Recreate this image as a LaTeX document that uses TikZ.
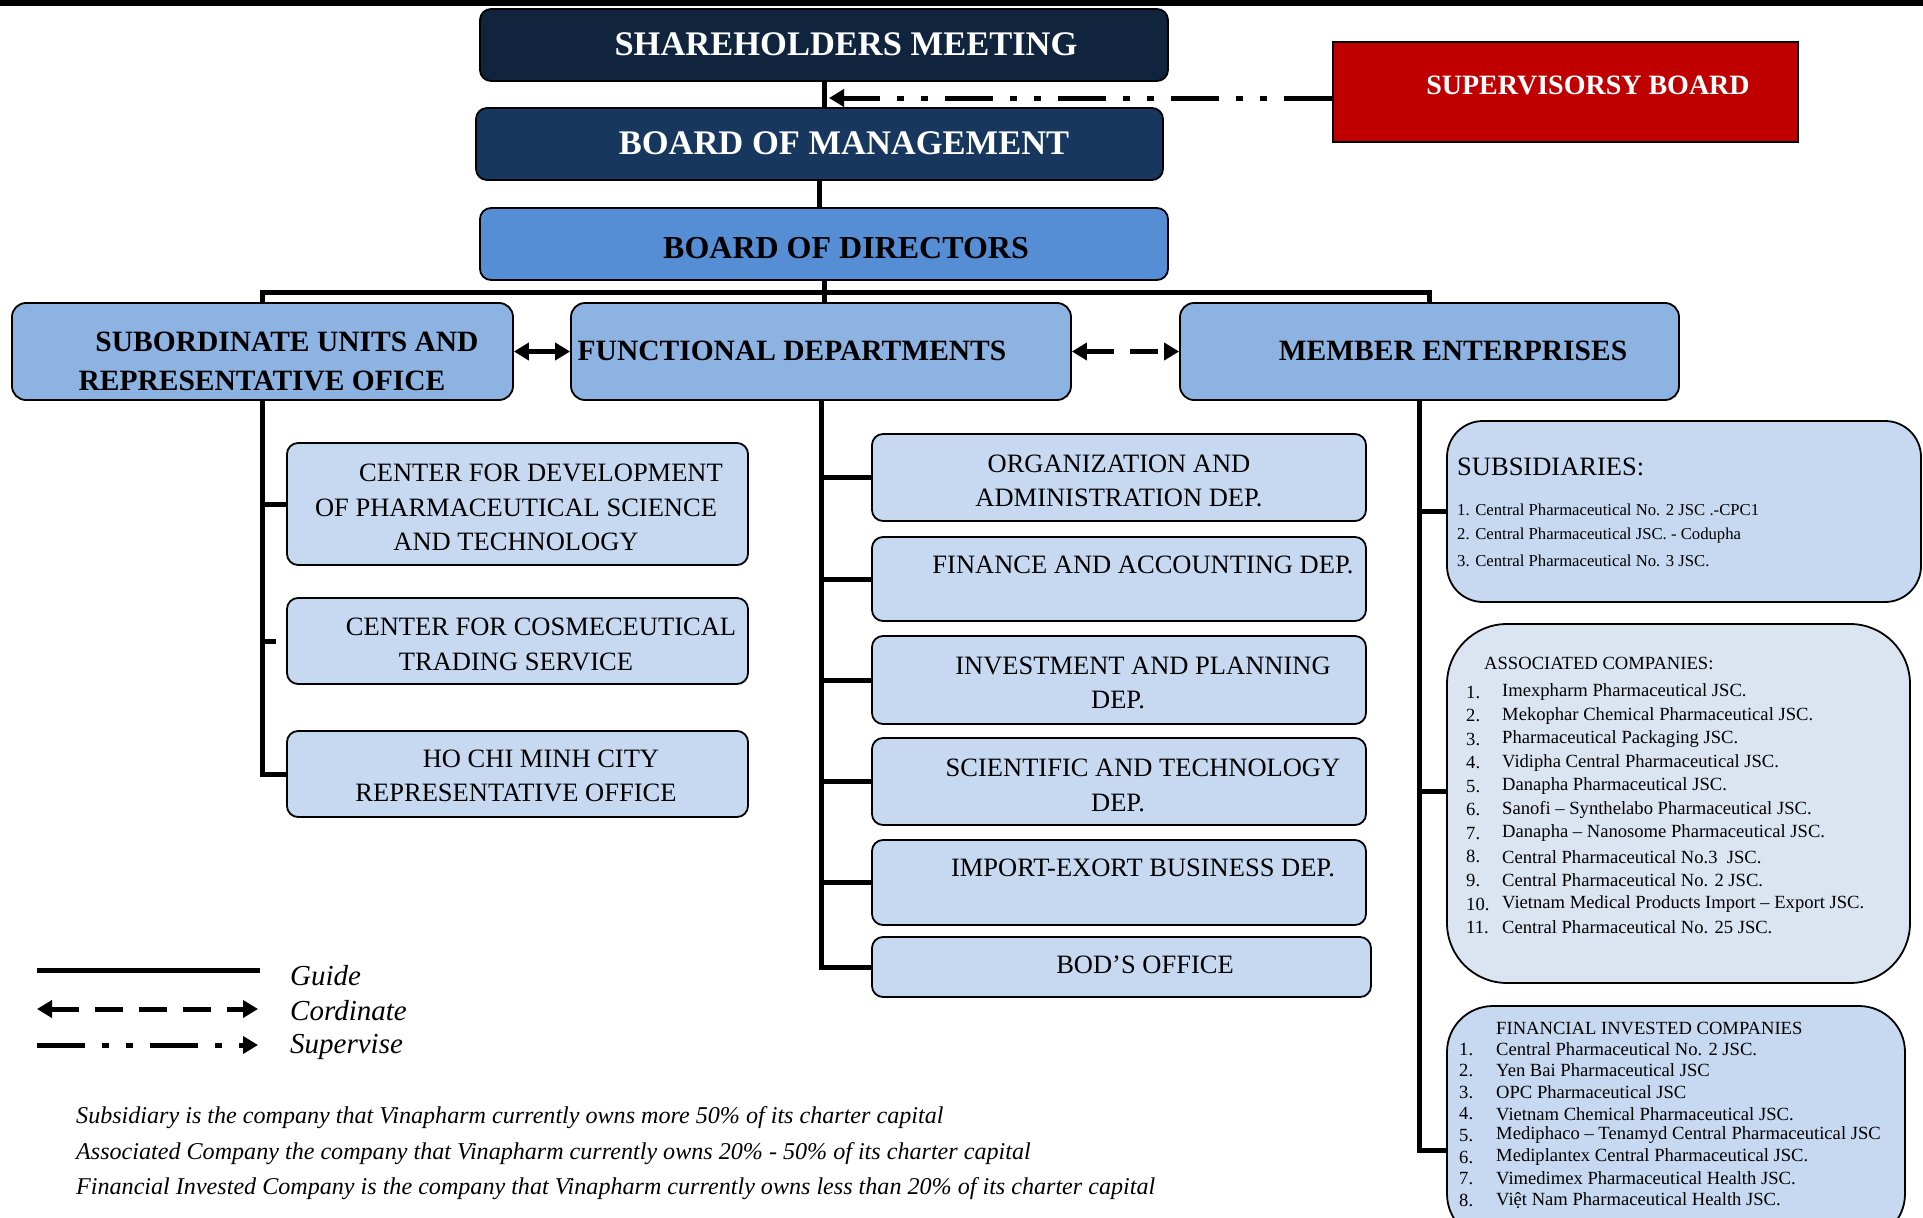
\documentclass[tikz,border=0pt]{standalone}
\usepackage{fontspec}
\setmainfont{Liberation Serif}
\usetikzlibrary{arrows.meta}

\definecolor{navyA}{HTML}{10243E}
\definecolor{navyB}{HTML}{17375E}
\definecolor{blueC}{HTML}{558ED5}
\definecolor{blueD}{HTML}{8DB3E2}
\definecolor{blueE}{HTML}{C6D9F1}
\definecolor{blueF}{HTML}{DBE5F1}
\definecolor{redS}{HTML}{C00000}

\tikzset{
  orgbox/.style={draw=black, line width=1.8pt, rounded corners=11pt, inner sep=0pt},
  guide/.style={line width=5pt, line join=miter},
  cordline/.style={line width=5pt, dash pattern=on 28pt off 16pt,
    {Triangle[length=15pt,width=17pt]}-{Triangle[length=15pt,width=17pt]}},
  supline/.style={line width=5pt,
    dash pattern=on 48pt off 17pt on 7pt off 17pt on 7pt off 17pt,
    -{Triangle[length=15pt,width=17pt]}},
  hdrtxt/.style={text=white, inner sep=0pt, font=\fontsize{34.5}{40}\selectfont\bfseries},
  bodtxt/.style={text=black, inner sep=0pt, font=\fontsize{32}{38}\selectfont\bfseries},
  suptxt/.style={text=white, inner sep=0pt, font=\fontsize{28}{34}\selectfont\bfseries},
  lvltxt/.style={text=black, inner sep=0pt, align=center, font=\fontsize{29.5}{39}\selectfont\bfseries},
  depttxt/.style={text=black, inner sep=0pt, align=center, font=\fontsize{26.5}{34.5}\selectfont},
  subhead/.style={text=black, inner sep=0pt, anchor=west, font=\fontsize{26.5}{30}\selectfont},
  smallitem/.style={text=black, inner sep=0pt, anchor=west, font=\fontsize{16.7}{20}\selectfont},
  listtxt/.style={text=black, inner sep=0pt, anchor=west, font=\fontsize{18.6}{22}\selectfont},
  legendtxt/.style={text=black, inner sep=0pt, anchor=west, font=\fontsize{29}{34}\selectfont\itshape},
  notetxt/.style={text=black, inner sep=0pt, anchor=west, font=\fontsize{24.1}{30}\selectfont\itshape}
}

\begin{document}
\begin{tikzpicture}[x=1pt,y=-1pt]
\useasboundingbox (0,0) rectangle (1923,1218);
\clip (0,0) rectangle (1923,1218);
\fill[black] (0,0) rectangle (1923,6);

% ---- top levels ----
\node[orgbox, fill=navyA, minimum width=688pt, minimum height=72pt] (shm) at (824,45) {};
\node[hdrtxt] (shmt) at (846,44) {SHAREHOLDERS MEETING};

\node[draw=black, line width=1.8pt, fill=redS, inner sep=0pt,
      minimum width=465pt, minimum height=100pt] (sup) at (1565.5,92) {};
\node[suptxt] (supt) at (1588,85) {SUPERVISORSY BOARD};

\node[orgbox, fill=navyB, minimum width=687pt, minimum height=72pt] (bom) at (819.5,144) {};
\node[hdrtxt] (bomt) at (844,143) {BOARD OF MANAGEMENT};

\node[orgbox, fill=blueC, minimum width=688pt, minimum height=72pt] (bod) at (824,244) {};
\node[bodtxt] (bodt) at (846,248) {BOARD OF DIRECTORS};

% ---- second level ----
\node[orgbox, rounded corners=14pt, fill=blueD, minimum width=501pt, minimum height=97pt] (sub) at (262.5,351.5) {};
\node[lvltxt] (subt) at (262,361.5) {\hspace*{50pt}SUBORDINATE UNITS AND\\REPRESENTATIVE OFICE};
\node[orgbox, rounded corners=14pt, fill=blueD, minimum width=500pt, minimum height=97pt] (fun) at (821,351.5) {};
\node[lvltxt] (funt) at (792,351) {FUNCTIONAL DEPARTMENTS};
\node[orgbox, rounded corners=14pt, fill=blueD, minimum width=499pt, minimum height=97pt] (mem) at (1429.5,351.5) {};
\node[lvltxt] (memt) at (1453,351) {MEMBER ENTERPRISES};

% ---- subordinate units ----
\node[orgbox, fill=blueE, minimum width=461pt, minimum height=122pt] (dev) at (517.5,504) {};
\node[depttxt] (devt) at (516,507.5) {\hspace*{50pt}CENTER FOR DEVELOPMENT\\OF PHARMACEUTICAL SCIENCE\\AND TECHNOLOGY};
\node[orgbox, fill=blueE, minimum width=461pt, minimum height=86pt] (cos) at (517.5,641) {};
\node[depttxt] (cost) at (516,644.5) {\hspace*{50pt}CENTER FOR COSMECEUTICAL\\TRADING SERVICE};
\node[orgbox, fill=blueE, minimum width=461pt, minimum height=86pt] (hcm) at (517.5,774) {};
\node[depttxt] (hcmt) at (516,776) {\hspace*{50pt}HO CHI MINH CITY\\REPRESENTATIVE OFFICE};

% ---- functional departments ----
\node[orgbox, fill=blueE, minimum width=494pt, minimum height=87pt] (org) at (1119,477.5) {};
\node[depttxt] (orgt) at (1119,481) {ORGANIZATION AND\\ADMINISTRATION DEP.};
\node[orgbox, fill=blueE, minimum width=494pt, minimum height=84pt] (fin) at (1119,579) {};
\node[depttxt] (fint) at (1143,565) {FINANCE AND ACCOUNTING DEP.};
\node[orgbox, fill=blueE, minimum width=494pt, minimum height=88pt] (inv) at (1119,680) {};
\node[depttxt] (invt) at (1118,683) {\hspace*{50pt}INVESTMENT AND PLANNING\\DEP.};
\node[orgbox, fill=blueE, minimum width=494pt, minimum height=87pt] (sci) at (1119,781.5) {};
\node[depttxt] (scit) at (1118,785.5) {\hspace*{50pt}SCIENTIFIC AND TECHNOLOGY\\DEP.};
\node[orgbox, fill=blueE, minimum width=494pt, minimum height=85pt] (imp) at (1119,882.5) {};
\node[depttxt] (impt) at (1143,868) {IMPORT-EXORT BUSINESS DEP.};
\node[orgbox, fill=blueE, minimum width=499pt, minimum height=60pt] (bodo) at (1121.5,967) {};
\node[depttxt] (bodot) at (1145,965) {BOD’S OFFICE};

% ---- member enterprises ----
\node[orgbox, rounded corners=36pt, fill=blueE, minimum width=474pt, minimum height=181pt] (subs) at (1684,511.5) {};
\node[subhead] (subsh) at (1457,467) {SUBSIDIARIES:};
\foreach \t [count=\i] in {1. Central Pharmaceutical No. 2 JSC .-CPC1,
                           2. Central Pharmaceutical JSC. - Codupha,
                           3. Central Pharmaceutical No. 3 JSC.}
  \node[smallitem] (subs\i) at (1457,{510+25.5*(\i-1)}) {\t};

\node[orgbox, rounded corners=60pt, fill=blueF, minimum width=463pt, minimum height=359pt] (assoc) at (1678.5,803.5) {};
\node[listtxt] (assoch) at (1484,663) {ASSOCIATED COMPANIES:};
\foreach \t [count=\i] in {Imexpharm Pharmaceutical JSC.,
                           Mekophar Chemical Pharmaceutical JSC.,
                           Pharmaceutical Packaging JSC.,
                           Vidipha Central Pharmaceutical JSC.,
                           Danapha Pharmaceutical JSC.,
                           Sanofi – Synthelabo Pharmaceutical JSC.,
                           Danapha – Nanosome Pharmaceutical JSC.,
                           Central Pharmaceutical No.3 \ JSC.,
                           Central Pharmaceutical No. 2 JSC.,
                           Vietnam Medical Products Import – Export JSC.,
                           Central Pharmaceutical No. 25 JSC.}
{
  \node[listtxt] (assocn\i) at (1466,{692+23.55*(\i-1)}) {\i.};
  \node[listtxt] (assoc\i) at (1502,{692+23.55*(\i-1)}) {\t};
}

\node[orgbox, rounded corners=46pt, fill=blueE, minimum width=458pt, minimum height=234pt] (finv) at (1676,1123) {};
\node[listtxt] (finvh) at (1496,1028) {FINANCIAL INVESTED COMPANIES};
\foreach \t [count=\i] in {Central Pharmaceutical No. 2 JSC.,
                           Yen Bai Pharmaceutical JSC,
                           OPC Pharmaceutical JSC,
                           Vietnam Chemical Pharmaceutical JSC.,
                           Mediphaco – Tenamyd Central Pharmaceutical JSC,
                           Mediplantex Central Pharmaceutical JSC.,
                           Vimedimex Pharmaceutical Health JSC.,
                           Việt Nam Pharmaceutical Health JSC.}
{
  \node[listtxt] (finvn\i) at (1459,{1049+21.6*(\i-1)}) {\i.};
  \node[listtxt] (finv\i) at (1496,{1049+21.6*(\i-1)}) {\t};
}

% ---- guide connectors ----
\draw[guide] (shm.south) -- (shm.south |- bom.north);
\draw[guide] (bom.south) -- (bom.south |- bod.north);
\coordinate (bus) at (822,292);
\draw[guide] (bod.south) -- (bod.south |- fun.north);
\draw[guide] (sub.north) -- (sub.north |- bus) -- (mem.north |- bus) -- (mem.north);

\draw[guide] (sub.south) |- (hcm.west);
\draw[guide] (sub.south |- dev.west) -- (dev.west);
\coordinate (cosstub) at (276,641);
\draw[guide] (sub.south |- cos.west) -- (cosstub);

\draw[guide] (fun.south) |- (bodo.west);
\foreach \n in {org,fin,inv,sci,imp}
  \draw[guide] (fun.south |- \n.west) -- (\n.west);

\coordinate (mtrunk) at ([xshift=-10.5pt]mem.south);
\coordinate (associn) at ([yshift=12.5pt]assoc.west);
\coordinate (finvin) at ([yshift=-27pt]finv.west);
\draw[guide] (mtrunk) |- (finvin);
\draw[guide] (mtrunk |- subs.west) -- (subs.west);
\draw[guide] (mtrunk |- associn) -- (associn);

% ---- coordination and supervision ----
\draw[cordline] (sub.east) -- (fun.west);
\draw[cordline] (fun.east) -- (mem.west);

\coordinate (supin) at ([yshift=-6pt]sup.west);
\path (shm.south |- supin) coordinate (supx);
\coordinate (suptip) at ([xshift=5pt]supx);
\draw[supline] (supin) -- (suptip);

% ---- legend ----
\coordinate (lgA1) at (37,970);   \coordinate (lgA2) at (260,970);
\coordinate (lgB1) at (37,1009);  \coordinate (lgB2) at (258,1009);
\coordinate (lgC1) at (37,1045);  \coordinate (lgC2) at (258,1045);
\draw[guide] (lgA1) -- (lgA2);
\draw[cordline] (lgB1) -- (lgB2);
\draw[supline] (lgC1) -- (lgC2);
\node[legendtxt] (lgAt) at (290,976) {Guide};
\node[legendtxt] (lgBt) at (290,1011) {Cordinate};
\node[legendtxt] (lgCt) at (290,1047) {Supervise};

% ---- notes ----
\node[notetxt] (note1) at (76,1118) {Subsidiary is the company that Vinapharm currently owns more 50\% of its charter capital};
\node[notetxt] (note2) at (76,1154) {Associated Company the company that Vinapharm currently owns 20\% - 50\% of its charter capital};
\node[notetxt] (note3) at (76,1189) {Financial Invested Company is the company that Vinapharm currently owns less than 20\% of its charter capital};
\end{tikzpicture}
\end{document}
